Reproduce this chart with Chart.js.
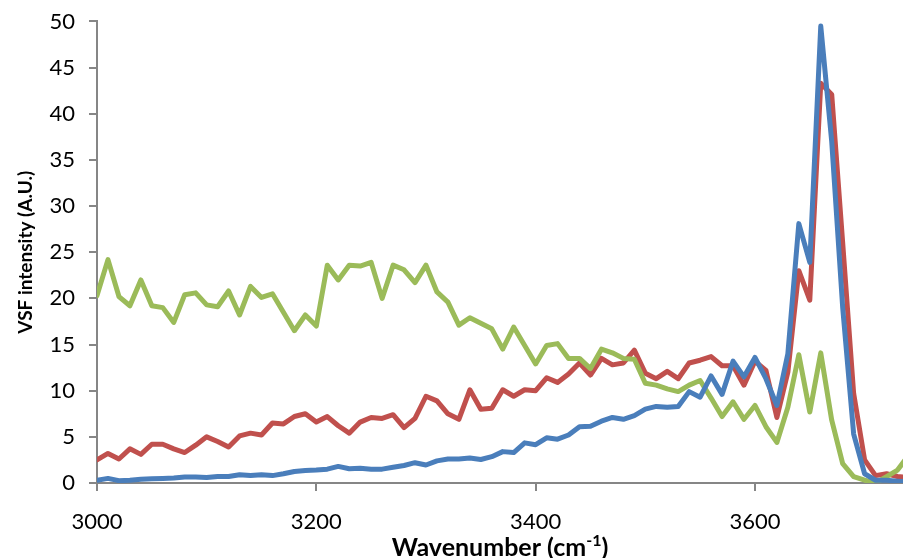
<!DOCTYPE html>
<html>
<head>
<meta charset="utf-8">
<script src="https://cdn.jsdelivr.net/npm/chart.js@4/dist/chart.umd.min.js"></script>
<style>
html,body{margin:0;padding:0;background:#fff;}
#wrap{width:903px;height:558px;}
</style>
</head>
<body>
<div id="wrap"><canvas id="c" width="903" height="558"></canvas></div>
<script>
const wavenumber = [3000,3010,3020,3030,3040,3050,3060,3070,3080,3090,3100,3110,3120,3130,3140,3150,3160,3170,3180,3190,3200,3210,3220,3230,3240,3250,3260,3270,3280,3290,3300,3310,3320,3330,3340,3350,3360,3370,3380,3390,3400,3410,3420,3430,3440,3450,3460,3470,3480,3490,3500,3510,3520,3530,3540,3550,3560,3570,3580,3590,3600,3610,3620,3630,3640,3650,3660,3670,3680,3690,3700,3710,3720,3730,3740];

const blueSeries = [0.3,0.5,0.25,0.3,0.4,0.45,0.5,0.55,0.65,0.65,0.6,0.7,0.7,0.9,0.8,0.9,0.8,1.0,1.25,1.35,1.4,1.5,1.8,1.55,1.6,1.5,1.5,1.7,1.9,2.2,1.95,2.4,2.6,2.6,2.7,2.55,2.85,3.4,3.3,4.35,4.15,4.9,4.75,5.2,6.1,6.15,6.7,7.1,6.9,7.3,8.0,8.3,8.2,8.3,9.9,9.3,11.6,9.6,13.2,11.5,13.6,11.3,8.4,14.0,28.1,23.9,49.5,37.0,19.0,5.3,1.0,0.3,0.3,0.2,0.1];

const redSeries = [2.5,3.2,2.6,3.7,3.1,4.2,4.2,3.7,3.3,4.1,5.0,4.5,3.9,5.1,5.4,5.2,6.5,6.4,7.2,7.5,6.6,7.2,6.2,5.4,6.6,7.1,7.0,7.4,6.0,7.0,9.4,8.9,7.5,6.9,10.1,8.0,8.1,10.1,9.4,10.1,10.0,11.4,10.9,11.8,13.0,11.7,13.5,12.8,13.0,14.4,11.9,11.3,12.1,11.3,13.0,13.3,13.7,12.7,12.7,10.6,13.2,12.2,7.1,12.0,23.0,19.8,43.3,42.1,26.0,9.7,2.5,0.8,1.0,0.7,0.6];

const greenSeries = [20.3,24.2,20.2,19.2,22.0,19.2,19.0,17.4,20.4,20.6,19.3,19.1,20.8,18.2,21.3,20.1,20.5,18.5,16.5,18.2,17.0,23.6,22.0,23.6,23.5,23.9,20.0,23.6,23.1,21.7,23.6,20.7,19.6,17.1,17.9,17.3,16.7,14.5,16.9,14.9,12.9,14.9,15.1,13.5,13.5,12.4,14.5,14.1,13.5,13.4,10.8,10.6,10.2,9.9,10.6,11.1,9.2,7.2,8.8,6.9,8.4,6.1,4.4,8.2,13.9,7.7,14.1,6.8,2.1,0.7,0.3,0.0,0.7,1.4,3.0];

const xTickValues = [3000,3200,3400,3600];
const yTickStep = 5;
const xTitleMain = 'Wavenumber (cm';
const xTitleSup = '-1';
const xTitleEnd = ')';
const yTitle = 'VSF intensity (A.U.)';

function pts(ys){ return wavenumber.map((x,i)=>({x:x,y:ys[i]})); }

const FONT = "Lato, 'Open Sans', sans-serif";
const AXIS = '#868686';

function ds(data,color,order){
  return {data:pts(data),borderColor:color,backgroundColor:color,borderWidth:5,pointRadius:0,
    tension:0,borderJoinStyle:'round',borderCapStyle:'round',fill:false,order:order};
}

const xTitlePlugin = {
  id:'xTitle',
  afterDraw(chart){
    const ctx = chart.ctx, a = chart.chartArea;
    ctx.save();
    ctx.fillStyle = '#000';
    ctx.textBaseline = 'alphabetic';
    ctx.textAlign = 'left';
    const mainF = "bold 25px " + FONT, supF = "bold 16px " + FONT;
    ctx.font = mainF; const w1 = ctx.measureText(xTitleMain).width, w3 = ctx.measureText(xTitleEnd).width;
    ctx.font = supF; const w2 = ctx.measureText(xTitleSup).width;
    const total = w1 + w2 + w3;
    let x = (a.left + a.right)/2 - total/2;
    const base = 556;
    ctx.font = mainF; ctx.fillText(xTitleMain, x, base); x += w1;
    ctx.font = supF; ctx.fillText(xTitleSup, x, base - 10); x += w2;
    ctx.font = mainF; ctx.fillText(xTitleEnd, x, base);
    ctx.restore();
  }
};

new Chart(document.getElementById('c'),{
  type:'line',
  data:{datasets:[
    ds(blueSeries,'#4A7EBB',0),
    ds(greenSeries,'#9BBB59',1),
    ds(redSeries,'#C0504D',2)
  ]},
  plugins:[xTitlePlugin],
  options:{
    responsive:false,
    animation:false,
    devicePixelRatio:1,
    layout:{padding:{top:2,right:0,left:0,bottom:0}},
    plugins:{legend:{display:false},tooltip:{enabled:false}},
    scales:{
      x:{type:'linear',min:3000,max:3735,
        afterBuildTicks:(s)=>{s.ticks = xTickValues.map(v=>({value:v}));},
        afterFit:(s)=>{s.height = 75;},
        ticks:{font:{family:FONT,size:22},color:'#000',padding:18,maxRotation:0,autoSkip:false,
          callback:(v)=>String(v)},
        grid:{drawOnChartArea:false,drawTicks:true,tickLength:8,color:AXIS,lineWidth:2},
        border:{color:AXIS,width:2},
        title:{display:false}
      },
      y:{min:0,max:50,
        afterFit:(s)=>{s.width = 97;},
        ticks:{stepSize:yTickStep,font:{family:FONT,size:22,lineHeight:0.68},color:'#000',padding:14},
        grid:{drawOnChartArea:false,drawTicks:true,tickLength:8,color:AXIS,lineWidth:2},
        border:{color:AXIS,width:2},
        title:{display:true,text:yTitle,font:{family:FONT,size:19,weight:'bold'},color:'#000',padding:{top:14,bottom:0}}
      }
    }
  }
});
</script>
</body>
</html>
